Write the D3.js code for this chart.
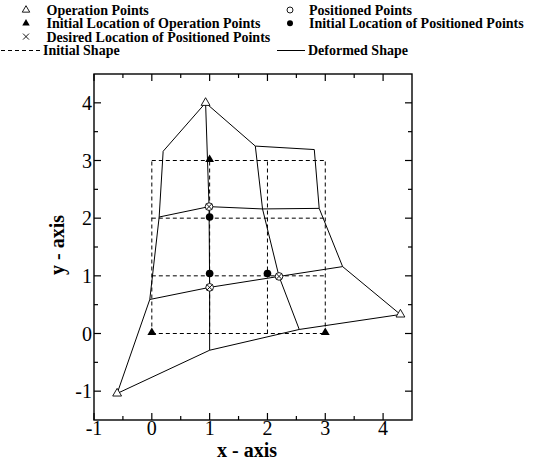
<!DOCTYPE html>
<html>
<head>
<meta charset="utf-8">
<script src="https://cdn.jsdelivr.net/npm/d3@7"></script>
<style>
  html, body { margin: 0; padding: 0; background: #fff; }
  svg { display: block; font-family: "Liberation Serif", "Times New Roman", serif; }
</style>
</head>
<body>
<svg id="chart" width="542" height="465"></svg>
<script>
// ---------- data ----------
const xTicks = [-1, 0, 1, 2, 3, 4];
const yTicks = [-1, 0, 1, 2, 3, 4];
const xMinorTicks = [-0.5, 0.5, 1.5, 2.5, 3.5];
const yMinorTicks = [-0.5, 0.5, 1.5, 2.5, 3.5];

// initial (undeformed) grid: node coordinates
const initialGridX = [0, 1, 2, 3];
const initialGridY = [0, 1, 2, 3];

// deformed grid nodes, row j (initial y = j), columns i = 0..3
const deformedRow0 = [[-0.60, -1.04], [1.00, -0.29], [2.55, 0.07], [4.30, 0.33]];
const deformedRow1 = [[-0.035, 0.59], [1.00, 0.80], [2.20, 0.99], [3.30, 1.16]];
const deformedRow2 = [[0.127, 2.02], [0.99, 2.20], [1.915, 2.16], [2.895, 2.17]];
const deformedRow3 = [[0.196, 3.16], [0.93, 4.00], [1.79, 3.25], [2.81, 3.19]];

const operationPoints = [[-0.60, -1.04], [0.93, 4.00], [4.30, 0.33]];
const initialOperationPoints = [[0, 0], [1, 3], [3, 0]];
const positionedPoints = [[0.99, 2.20], [1.00, 0.80], [2.20, 0.99]];
const initialPositionedPoints = [[1, 2.02], [1, 1.04], [2, 1.04]];
const desiredPositionedPoints = [[0.99, 2.20], [1.00, 0.80], [2.20, 0.99]];

const legendLabels = [
  "Operation Points", "Positioned Points",
  "Initial Location of Operation Points", "Initial Location of Positioned Points",
  "Desired Location of Positioned Points",
  "Initial Shape", "Deformed Shape"
];

// ---------- setup ----------
const svg = d3.select("#chart");
const L = 94, R = 412, T = 74, B = 420;
const x = d3.scaleLinear().domain([-1, 4.5]).range([L, R]);
const y = d3.scaleLinear().domain([-1.5, 4.5]).range([B, T]);

const line = d3.line().x(d => x(d[0])).y(d => y(d[1]));

// ---------- initial shape (dashed grid) ----------
const gInit = svg.append("g").attr("fill", "none").attr("stroke", "#000")
  .attr("stroke-width", 1).attr("stroke-dasharray", "4,3");
const gx0 = d3.min(initialGridX), gx1 = d3.max(initialGridX);
const gy0 = d3.min(initialGridY), gy1 = d3.max(initialGridY);
initialGridY.forEach(v => {
  gInit.append("path").attr("d", line([[gx0, v], [gx1, v]]));
});
initialGridX.forEach(v => {
  gInit.append("path").attr("d", line([[v, gy0], [v, gy1]]));
});

// ---------- deformed shape (solid grid) ----------
const rows = [deformedRow0, deformedRow1, deformedRow2, deformedRow3];
const cols = d3.range(4).map(i => rows.map(r => r[i]));
const gDef = svg.append("g").attr("fill", "none").attr("stroke", "#000").attr("stroke-width", 1);
rows.forEach(r => gDef.append("path").attr("d", line(r)));
cols.forEach(c => gDef.append("path").attr("d", line(c)));

// ---------- markers ----------
const tri = d3.symbol().type(d3.symbolTriangle).size(34);
const circ = d3.symbol().type(d3.symbolCircle).size(46);
function crossPath(s) { return `M${-s},${-s}L${s},${s}M${-s},${s}L${s},${-s}`; }

svg.append("g").selectAll("path").data(initialOperationPoints).join("path")
  .attr("transform", d => `translate(${x(d[0])},${y(d[1]) - 1})`)
  .attr("d", tri).attr("fill", "#000");

svg.append("g").selectAll("path").data(initialPositionedPoints).join("path")
  .attr("transform", d => `translate(${x(d[0])},${y(d[1])})`)
  .attr("d", circ).attr("fill", "#000");

svg.append("g").selectAll("path").data(operationPoints).join("path")
  .attr("transform", d => `translate(${x(d[0])},${y(d[1])})`)
  .attr("d", tri).attr("fill", "#fff").attr("stroke", "#000").attr("stroke-width", 0.9);

svg.append("g").selectAll("path").data(positionedPoints).join("path")
  .attr("transform", d => `translate(${x(d[0])},${y(d[1])})`)
  .attr("d", circ).attr("fill", "#fff").attr("stroke", "#000").attr("stroke-width", 0.9);

svg.append("g").selectAll("path").data(desiredPositionedPoints).join("path")
  .attr("transform", d => `translate(${x(d[0])},${y(d[1])})`)
  .attr("d", crossPath(2.8)).attr("fill", "none").attr("stroke", "#000").attr("stroke-width", 0.9);

// ---------- frame and ticks ----------
svg.append("rect").attr("x", L).attr("y", T).attr("width", R - L).attr("height", B - T)
  .attr("fill", "none").attr("stroke", "#000").attr("stroke-width", 1.4);

const gT = svg.append("g").attr("stroke", "#000").attr("stroke-width", 1.2);
const major = 7, minor = 4;
xTicks.forEach(v => {
  gT.append("line").attr("x1", x(v)).attr("x2", x(v)).attr("y1", B).attr("y2", B - major);
  gT.append("line").attr("x1", x(v)).attr("x2", x(v)).attr("y1", T).attr("y2", T + major);
});
xMinorTicks.forEach(v => {
  gT.append("line").attr("x1", x(v)).attr("x2", x(v)).attr("y1", B).attr("y2", B - minor);
  gT.append("line").attr("x1", x(v)).attr("x2", x(v)).attr("y1", T).attr("y2", T + minor);
});
yTicks.forEach(v => {
  gT.append("line").attr("y1", y(v)).attr("y2", y(v)).attr("x1", L).attr("x2", L + major);
  gT.append("line").attr("y1", y(v)).attr("y2", y(v)).attr("x1", R).attr("x2", R - major);
});
yMinorTicks.forEach(v => {
  gT.append("line").attr("y1", y(v)).attr("y2", y(v)).attr("x1", L).attr("x2", L + minor);
  gT.append("line").attr("y1", y(v)).attr("y2", y(v)).attr("x1", R).attr("x2", R - minor);
});

// tick labels
svg.append("g").selectAll("text").data(xTicks).join("text")
  .attr("x", d => x(d)).attr("y", 435).attr("text-anchor", "middle")
  .attr("font-size", 20).text(d => d);
svg.append("g").selectAll("text").data(yTicks).join("text")
  .attr("x", 92).attr("y", d => y(d) + 7).attr("text-anchor", "end")
  .attr("font-size", 20).text(d => d);

// axis titles
svg.append("text").attr("x", 247).attr("y", 457).attr("text-anchor", "middle")
  .attr("font-size", 20).attr("font-weight", "bold").text("x - axis");
svg.append("text").attr("transform", "translate(64,245) rotate(-90)")
  .attr("text-anchor", "middle").attr("font-size", 20).attr("font-weight", "bold").text("y - axis");

// ---------- legend ----------
const lg = svg.append("g").attr("font-size", 14).attr("font-weight", "bold");
const rowsY = [15, 28.3, 41.6, 55];
const lt = d3.symbol().type(d3.symbolTriangle).size(24);
const lc = d3.symbol().type(d3.symbolCircle).size(28);

lg.append("path").attr("transform", `translate(26,${rowsY[0] - 5})`).attr("d", lt)
  .attr("fill", "#fff").attr("stroke", "#000").attr("stroke-width", 0.9);
lg.append("text").attr("x", 46.5).attr("y", rowsY[0]).text(legendLabels[0]);
lg.append("path").attr("transform", `translate(290,${rowsY[0] - 5})`).attr("d", lc)
  .attr("fill", "#fff").attr("stroke", "#000").attr("stroke-width", 0.9);
lg.append("text").attr("x", 309).attr("y", rowsY[0]).text(legendLabels[1]);

lg.append("path").attr("transform", `translate(26,${rowsY[1] - 5})`).attr("d", lt).attr("fill", "#000");
lg.append("text").attr("x", 46.5).attr("y", rowsY[1]).text(legendLabels[2]);
lg.append("path").attr("transform", `translate(290,${rowsY[1] - 5})`).attr("d", lc).attr("fill", "#000");
lg.append("text").attr("x", 309).attr("y", rowsY[1]).text(legendLabels[3]);

lg.append("path").attr("transform", `translate(26,${rowsY[2] - 5})`).attr("d", crossPath(3))
  .attr("fill", "none").attr("stroke", "#000").attr("stroke-width", 0.9);
lg.append("text").attr("x", 46.5).attr("y", rowsY[2]).text(legendLabels[4]);

lg.append("line").attr("x1", 1).attr("x2", 41).attr("y1", rowsY[3] - 4.5).attr("y2", rowsY[3] - 4.5)
  .attr("stroke", "#000").attr("stroke-width", 1).attr("stroke-dasharray", "4,3");
lg.append("text").attr("x", 43).attr("y", rowsY[3]).text(legendLabels[5]);
lg.append("line").attr("x1", 277).attr("x2", 305).attr("y1", rowsY[3] - 4.5).attr("y2", rowsY[3] - 4.5)
  .attr("stroke", "#000").attr("stroke-width", 1);
lg.append("text").attr("x", 308).attr("y", rowsY[3]).text(legendLabels[6]);
</script>
</body>
</html>
